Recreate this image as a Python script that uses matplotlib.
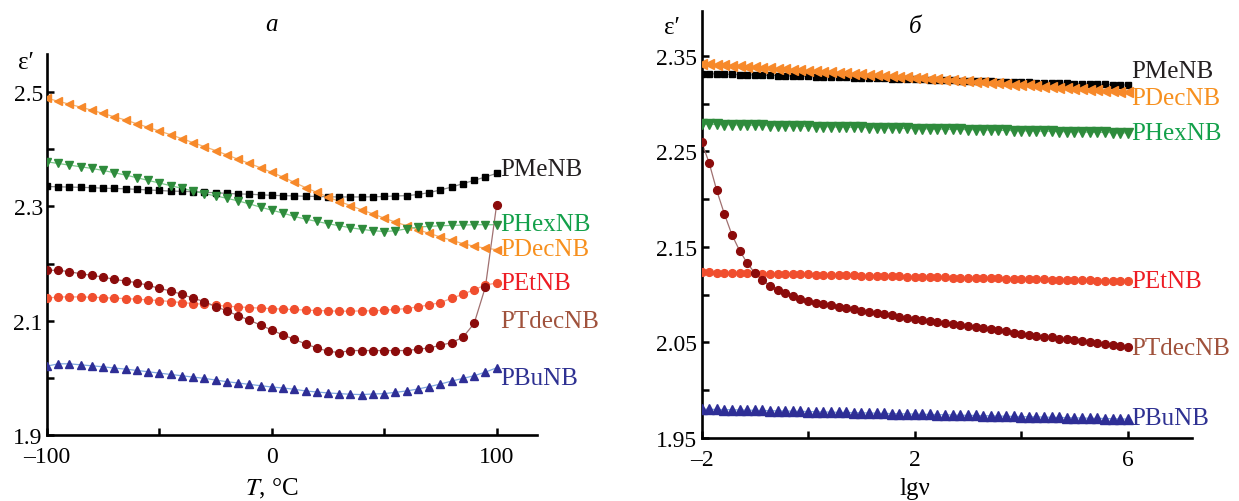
import numpy as np
import matplotlib
matplotlib.use('Agg')
import matplotlib.pyplot as plt
from matplotlib.ticker import FixedLocator

plt.rcParams['font.family'] = ['Liberation Serif', 'DejaVu Serif']
plt.rcParams['mathtext.fontset'] = 'stix'

# ---- panel a: eps' vs T ----
temp = np.arange(-100, 101, 5)

pmenb_t = [2.335, 2.3345, 2.334, 2.3335, 2.333, 2.332, 2.3315, 2.331, 2.330, 2.329,
           2.328, 2.327, 2.3265, 2.326, 2.325, 2.324, 2.323, 2.322, 2.3215, 2.3205,
           2.3195, 2.319, 2.3185, 2.318, 2.3175, 2.317, 2.3167, 2.3167, 2.3167, 2.317,
           2.3175, 2.3185, 2.319, 2.321, 2.3243, 2.329, 2.334, 2.340, 2.3458, 2.3516,
           2.358]
pdecnb_t = [2.4895, 2.4843, 2.4791, 2.4739, 2.4686, 2.4628, 2.457, 2.4513, 2.4449, 2.4385,
            2.4321, 2.4257, 2.4188, 2.4118, 2.4049, 2.3979, 2.3904, 2.3828, 2.3753, 2.3678,
            2.3597, 2.3515, 2.3423, 2.333, 2.3249, 2.3167, 2.3087, 2.3017, 2.294, 2.2871,
            2.2796, 2.2727, 2.2663, 2.2593, 2.253, 2.2466, 2.2409, 2.235, 2.2304, 2.227,
            2.2245]
phexnb_t = [2.3782, 2.3753, 2.3724, 2.3695, 2.3666, 2.3631, 2.3591, 2.355, 2.3504, 2.3457,
            2.3411, 2.3365, 2.3318, 2.3272, 2.3226, 2.3185, 2.3144, 2.3098, 2.3046, 2.2988,
            2.2936, 2.2884, 2.2826, 2.2779, 2.2739, 2.2698, 2.2663, 2.2628, 2.26, 2.2576,
            2.2562, 2.2575, 2.261, 2.264, 2.2652, 2.2663, 2.2669, 2.2675, 2.2681, 2.2681,
            2.2681]
petnb_t = [2.1394, 2.1417, 2.1417, 2.1417, 2.1411, 2.1405, 2.1394, 2.1388, 2.1376, 2.1365,
           2.1353, 2.1336, 2.1318, 2.1301, 2.1289, 2.1272, 2.1254, 2.1243, 2.1231, 2.122,
           2.1214, 2.1202, 2.1197, 2.1185, 2.1179, 2.1173, 2.1167, 2.1167, 2.1173, 2.1173,
           2.1185, 2.1197, 2.1214, 2.1243, 2.1278, 2.1318, 2.1394, 2.1463, 2.1544, 2.1625,
           2.166]
ptdecnb_t = [2.188, 2.1886, 2.1857, 2.1823, 2.1794, 2.1765, 2.1724, 2.1695, 2.1666, 2.162,
             2.1567, 2.1521, 2.1463, 2.1394, 2.1336, 2.1249, 2.1173, 2.1087, 2.1011, 2.0924,
             2.0837, 2.075, 2.0675, 2.0594, 2.0524, 2.0466, 2.0443, 2.0478, 2.0478, 2.0478,
             2.0478, 2.0478, 2.0478, 2.0501, 2.0524, 2.0571, 2.0617, 2.071, 2.0953, 2.1591,
             2.303]
pbunb_t = [2.0205, 2.0246, 2.0246, 2.0228, 2.0211, 2.0194, 2.0171, 2.0153, 2.013, 2.0107,
           2.0083, 2.006, 2.0037, 2.0014, 1.9991, 1.9962, 1.9933, 1.991, 1.9886, 1.9863,
           1.984, 1.9823, 1.98, 1.9771, 1.9753, 1.9736, 1.9724, 1.9713, 1.9707, 1.9718,
           1.9724, 1.9747, 1.9771, 1.9805, 1.9846, 1.9892, 1.9944, 1.9991, 2.0037, 2.0101,
           2.0176]

# ---- panel b: eps' vs lg(nu) ----
lgnu = np.linspace(-2, 6, 57)

pmenb_f = [2.3315, 2.3313, 2.3311, 2.3309, 2.3306, 2.3304, 2.3302, 2.3300, 2.3298, 2.3296,
           2.3294, 2.3291, 2.3289, 2.3287, 2.3285, 2.3283, 2.3281, 2.3279, 2.3276, 2.3274,
           2.3272, 2.3270, 2.3268, 2.3266, 2.3264, 2.3261, 2.3259, 2.3257, 2.3255, 2.3253,
           2.3251, 2.3249, 2.3246, 2.3244, 2.3242, 2.3240, 2.3238, 2.3236, 2.3234, 2.3231,
           2.3229, 2.3227, 2.3225, 2.3223, 2.3221, 2.3219, 2.3216, 2.3214, 2.3212, 2.3210,
           2.3208, 2.3206, 2.3204, 2.3201, 2.3199, 2.3197, 2.3195]
pdecnb_f = [2.3420, 2.3415, 2.3409, 2.3404, 2.3399, 2.3393, 2.3388, 2.3382, 2.3377, 2.3372,
            2.3366, 2.3361, 2.3356, 2.3350, 2.3345, 2.3340, 2.3334, 2.3329, 2.3324, 2.3318,
            2.3313, 2.3307, 2.3302, 2.3297, 2.3291, 2.3286, 2.3281, 2.3275, 2.3270, 2.3265,
            2.3259, 2.3254, 2.3249, 2.3243, 2.3238, 2.3232, 2.3227, 2.3222, 2.3216, 2.3211,
            2.3206, 2.3200, 2.3195, 2.3190, 2.3184, 2.3179, 2.3174, 2.3168, 2.3163, 2.3157,
            2.3152, 2.3147, 2.3141, 2.3136, 2.3131, 2.3125, 2.3120]
phexnb_f = [2.2785, 2.2783, 2.2782, 2.2780, 2.2778, 2.2777, 2.2775, 2.2774, 2.2772, 2.2770,
            2.2769, 2.2767, 2.2765, 2.2764, 2.2762, 2.2760, 2.2759, 2.2757, 2.2755, 2.2754,
            2.2752, 2.2751, 2.2749, 2.2747, 2.2746, 2.2744, 2.2742, 2.2741, 2.2739, 2.2737,
            2.2736, 2.2734, 2.2733, 2.2731, 2.2729, 2.2728, 2.2726, 2.2724, 2.2723, 2.2721,
            2.2719, 2.2718, 2.2716, 2.2714, 2.2713, 2.2711, 2.2710, 2.2708, 2.2706, 2.2705,
            2.2703, 2.2701, 2.2700, 2.2698, 2.2696, 2.2695, 2.2693]
petnb_f = [2.1233, 2.1231, 2.1230, 2.1228, 2.1226, 2.1225, 2.1223, 2.1221, 2.1220, 2.1218,
           2.1216, 2.1215, 2.1213, 2.1211, 2.1210, 2.1208, 2.1206, 2.1205, 2.1203, 2.1201,
           2.1200, 2.1198, 2.1196, 2.1195, 2.1193, 2.1191, 2.1190, 2.1188, 2.1186, 2.1185,
           2.1183, 2.1181, 2.1180, 2.1178, 2.1176, 2.1175, 2.1173, 2.1171, 2.1170, 2.1168,
           2.1166, 2.1165, 2.1163, 2.1161, 2.1160, 2.1158, 2.1156, 2.1155, 2.1153, 2.1151,
           2.1150, 2.1148, 2.1146, 2.1145, 2.1143, 2.1141, 2.1140]
ptdecnb_f = [2.2600, 2.2380, 2.2090, 2.1845, 2.1625, 2.1460, 2.1330, 2.1225, 2.1148, 2.1093,
             2.1048, 2.1012, 2.0982, 2.0956, 2.0932, 2.0916, 2.0901, 2.0886, 2.0872, 2.0858,
             2.0845, 2.0832, 2.0819, 2.0806, 2.0793, 2.0781, 2.0769, 2.0757, 2.0745, 2.0734,
             2.0723, 2.0712, 2.0701, 2.0690, 2.0679, 2.0668, 2.0657, 2.0646, 2.0635, 2.0624,
             2.0613, 2.0602, 2.0591, 2.0581, 2.0570, 2.0560, 2.0550, 2.0539, 2.0529, 2.0519,
             2.0508, 2.0498, 2.0487, 2.0477, 2.0467, 2.0456, 2.0446]
pbunb_f = [1.9800, 1.9798, 1.9796, 1.9794, 1.9793, 1.9791, 1.9789, 1.9787, 1.9785, 1.9783,
           1.9781, 1.9779, 1.9778, 1.9776, 1.9774, 1.9772, 1.9770, 1.9768, 1.9766, 1.9764,
           1.9763, 1.9761, 1.9759, 1.9757, 1.9755, 1.9753, 1.9751, 1.9749, 1.9748, 1.9746,
           1.9744, 1.9742, 1.9740, 1.9738, 1.9736, 1.9734, 1.9733, 1.9731, 1.9729, 1.9727,
           1.9725, 1.9723, 1.9721, 1.9719, 1.9718, 1.9716, 1.9714, 1.9712, 1.9710, 1.9708,
           1.9706, 1.9704, 1.9703, 1.9701, 1.9699, 1.9697, 1.9695]

names = ['PMeNB', 'PDecNB', 'PHexNB', 'PEtNB', 'PTdecNB', 'PBuNB']
markers = ['s', '<', 'v', 'o', 'o', '^']
msizes_a = [4.8, 6.0, 6.0, 5.6, 5.6, 6.0]
msizes_b = [4.8, 6.6, 6.6, 5.6, 5.6, 6.6]
mcolors = ['#000000', '#F7892A', '#2E8B3C', '#F04E2E', '#8B0B0B', '#2E2E96']
lcolors = ['#8A8A8A', '#F5B370', '#7CC98A', '#F7A08A', '#A07070', '#7FA8E0']
tcolors = ['#231F20', '#F7901E', '#13A04A', '#ED1C24', '#A0523C', '#2E3192']

left_series = [pmenb_t, pdecnb_t, phexnb_t, petnb_t, ptdecnb_t, pbunb_t]
right_series = [pmenb_f, pdecnb_f, phexnb_f, petnb_f, ptdecnb_f, pbunb_f]

# label anchor values
left_label_y = [2.3654, 2.2251, 2.2689, 2.1667, 2.0993, 2.0]
right_label_y = [2.334, 2.3057, 2.269, 2.1138, 2.044, 1.9702]

fig = plt.figure(figsize=(12.39, 5.02), dpi=100)
ax1 = fig.add_axes([0.0379, 0.1315, 0.3956, 0.759])
ax2 = fig.add_axes([0.5662, 0.1261, 0.3956, 0.8499])


def style_axes(ax):
    for s in ['top', 'right']:
        ax.spines[s].set_visible(False)
    for s in ['left', 'bottom']:
        ax.spines[s].set_linewidth(1.9)
    ax.tick_params(which='both', direction='in', length=5, width=1.8,
                   labelsize=17, colors='black')
    ax.tick_params(axis='y', pad=3)
    ax.tick_params(axis='x', pad=8)


for i in range(6):
    ax1.plot(temp, left_series[i], '-', color=lcolors[i], lw=0.9, zorder=2)
    ax1.plot(temp, left_series[i], linestyle='none', marker=markers[i],
             ms=msizes_a[i], color=mcolors[i], mec=mcolors[i], zorder=3)
    ax1.text(101.5, left_label_y[i], names[i], color=tcolors[i], fontsize=18,
             ha='left', va='center')

    ax2.plot(lgnu, right_series[i], '-', color=lcolors[i], lw=0.9, zorder=2)
    ax2.plot(lgnu, right_series[i], linestyle='none', marker=markers[i],
             ms=msizes_b[i], color=mcolors[i], mec=mcolors[i], zorder=3)
    ax2.text(6.06, right_label_y[i], names[i], color=tcolors[i], fontsize=18,
             ha='left', va='center')

ax1.set_xlim(-100, 118)
ax1.set_ylim(1.9, 2.567)
ax1.set_xticks([-100, 0, 100])
ax1.set_xticklabels(['\u2013100', '0', '100'])
ax1.xaxis.set_minor_locator(FixedLocator([-50, 50]))
ax1.set_yticks([1.9, 2.1, 2.3, 2.5])
ax1.set_yticklabels(['1.9', '2.1', '2.3', '2.5'])
ax1.yaxis.set_minor_locator(FixedLocator([2.0, 2.2, 2.4]))
style_axes(ax1)

ax2.set_xlim(-2, 7.2)
ax2.set_ylim(1.95, 2.397)
ax2.set_xticks([-2, 2, 6])
ax2.set_xticklabels(['\u20132', '2', '6'])
ax2.xaxis.set_minor_locator(FixedLocator([0, 4]))
ax2.set_yticks([1.95, 2.05, 2.15, 2.25, 2.35])
ax2.set_yticklabels(['1.95', '2.05', '2.15', '2.25', '2.35'])
ax2.yaxis.set_minor_locator(FixedLocator([2.0, 2.1, 2.2, 2.3]))
style_axes(ax2)

W, H = 1239.0, 502.0
fig.text(272 / W, 1 - 489 / H, '$\\it{T}$, \u00b0C', fontsize=18, ha='center', va='center')
fig.text(915 / W, 1 - 489 / H, 'lg\u03bd', fontsize=18, ha='center', va='center')
fig.text(272 / W, 1 - 25 / H, 'a', fontsize=18, style='italic', ha='center', va='center')
fig.text(915 / W, 1 - 27 / H, '\u0431', fontsize=18, style='italic', ha='center', va='center')
fig.text(26 / W, 1 - 63 / H, '\u03b5\u2032', fontsize=18, ha='center', va='center')
fig.text(672 / W, 1 - 28 / H, '\u03b5\u2032', fontsize=18, ha='center', va='center')

fig.savefig('out.png', dpi=100)
